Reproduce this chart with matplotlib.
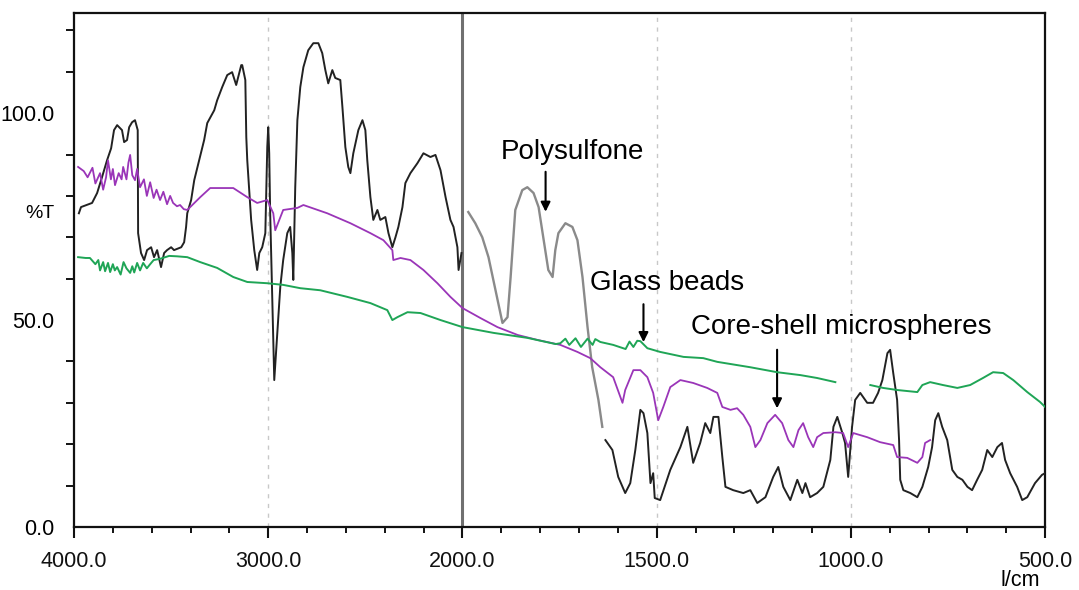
import numpy as np
import matplotlib.pyplot as plt
from matplotlib.ticker import FixedLocator, NullFormatter

plt.rcParams['font.family'] = ['Liberation Sans', 'DejaVu Sans']

# Polysulfone (black trace), wavenumber in 1/cm and %T; nan = break in the trace
ps_wn = [3975, 3964, 3907, 3881, 3856, 3830, 3809, 3794, 3778, 3753, 3742, 3727, 3716, 3701,
         3686, 3672, 3670, 3655, 3639, 3624, 3603, 3588, 3572, 3552, 3536, 3521, 3500, 3485,
         3448, 3433, 3423, 3417, 3397, 3381, 3356, 3330, 3314, 3278, 3263, 3237, 3211, 3186,
         3165, 3149, 3139, 3134, 3118, 3113, 3108, 3088, 3072, 3057, 3046, 3031, 3015, 3005,
         3000, 2995, 2990, 2969, 2948, 2938, 2923, 2902, 2887, 2876, 2871, 2861, 2850, 2835,
         2819, 2794, 2768, 2742, 2722, 2706, 2691, 2670, 2655, 2629, 2618, 2603, 2588, 2577,
         2562, 2536, 2515, 2500, 2490, 2474, 2459, 2438, 2423, 2397, 2381, 2361, 2345, 2330,
         2309, 2294, 2268, 2232, 2201, 2165, 2139, 2113, 2087, 2062, 2046, 2026, 2020, 2005,
         1995,
         1985, 1967, 1949, 1933, 1915, 1897, 1884, 1876, 1864, 1846, 1833, 1817, 1804, 1792,
         1779, 1768, 1761, 1753, 1735, 1717, 1704, 1691, 1678, 1666, 1650, 1640,
         1636,
         1632, 1614, 1599, 1581, 1568, 1555, 1542, 1534, 1524, 1516, 1509, 1505, 1491, 1465,
         1439, 1421, 1406, 1388, 1375, 1362, 1354, 1341, 1331, 1323, 1303, 1277, 1259, 1241,
         1220, 1200, 1187, 1174, 1156, 1138, 1125, 1117, 1105, 1087, 1071, 1053, 1045, 1035,
         1022, 1015, 1007, 997, 989, 976, 958, 943, 930, 919, 906, 899, 891, 881, 876, 873,
         865, 847, 829, 816, 801, 791, 783, 775, 765, 752, 739, 726, 713, 700, 688, 675, 662,
         649, 636, 623, 611, 603, 590, 572, 559, 546, 526, 508, 500]
ps_t = [75.8, 77.3, 78.3, 80.7, 84.5, 88.6, 91.5, 95.9, 97.1, 95.9, 93.0, 93.5, 96.6, 97.8,
        98.3, 95.9, 71.0, 66.2, 64.5, 66.9, 67.6, 65.2, 66.9, 62.8, 66.2, 66.9, 67.6, 66.9,
        67.6, 68.8, 72.5, 75.8, 79.0, 83.8, 88.6, 93.5, 97.6, 100.7, 103.1, 106.3, 109.2, 109.9,
        106.8, 109.7, 111.6, 111.6, 108.0, 94.2, 88.6, 74.2, 66.9, 62.1, 66.2, 67.6, 71.0, 91.8,
        96.6, 90.3, 75.8, 35.5, 50.7, 58.0, 64.5, 71.0, 72.5, 66.2, 59.7, 82.1, 98.3, 106.3,
        111.1, 115.2, 116.9, 116.9, 114.5, 110.4, 107.2, 110.4, 108.5, 108.0, 101.4, 91.8, 87.0, 85.5,
        90.3, 95.9, 98.3, 95.9, 88.6, 79.7, 74.2, 76.6, 74.2, 74.9, 71.0, 67.6, 70.0, 72.5,
        77.3, 83.1, 85.5, 87.9, 90.3, 89.4, 89.9, 86.2, 79.7, 74.2, 72.5, 67.6, 62.1, 66.2,
        np.nan,
        76.1, 73.4, 70.0, 65.2, 57.2, 49.3, 50.7, 60.4, 76.6, 81.4, 82.1, 80.7, 77.3, 70.0,
        62.1, 60.4, 66.9, 71.0, 73.4, 72.5, 69.3, 60.4, 48.3, 38.6, 30.7, 24.2,
        np.nan,
        21.0, 18.6, 12.1, 8.2, 10.6, 18.6, 28.3, 27.5, 22.7, 10.6, 13.0, 7.0, 6.5, 13.8,
        19.3, 24.2, 15.5, 20.3, 25.1, 22.7, 26.6, 26.6, 16.9, 9.7, 8.9, 8.2, 8.9, 5.8,
        7.2, 12.1, 14.5, 9.7, 6.5, 11.4, 8.2, 10.6, 7.2, 8.2, 9.7, 16.2, 24.2, 26.6,
        22.7, 20.3, 12.1, 24.2, 30.7, 32.4, 30.0, 30.0, 32.4, 35.5, 42.0, 42.8, 37.2, 30.7, 21.0, 11.4,
        8.9, 8.2, 7.2, 9.7, 14.5, 19.3, 25.8, 27.5, 24.2, 21.0, 13.8, 12.1, 11.4, 9.7, 8.9, 11.4, 13.8,
        18.6, 16.9, 19.3, 20.3, 16.2, 13.0, 9.7, 6.5, 7.2, 10.6, 12.6, 13.0]

# Core-shell microspheres (purple trace)
cs_wn = [3979, 3950, 3930, 3905, 3890, 3866, 3850, 3835, 3825, 3810, 3800, 3789, 3770, 3755,
         3747, 3730, 3720, 3711, 3700, 3686, 3675, 3660, 3640, 3625, 3608, 3590, 3575, 3557,
         3540, 3521, 3505, 3490, 3470, 3454, 3435, 3417, 3350, 3299, 3180, 3108, 3057, 3005,
         2974, 2964, 2923, 2850, 2819, 2696, 2577, 2474, 2407, 2361, 2356, 2319, 2268, 2201,
         2129, 2062, 2000, 1954, 1910, 1858, 1807, 1748, 1704, 1671, 1645, 1612, 1588, 1581,
         1560, 1542, 1524, 1509, 1496, 1483, 1465, 1439, 1406, 1370, 1344, 1331, 1310, 1293,
         1277, 1259, 1246, 1233, 1215, 1195, 1177, 1161, 1148, 1135, 1123, 1110, 1097, 1087,
         1071, 1040, 1020, 1007, 994, 958, 925, 891, 881, 855, 829, 816, 809, 796]
cs_t = [87.0, 86.0, 84.5, 86.8, 83.0, 85.5, 81.5, 84.5, 88.6, 84.0, 86.5, 82.6, 85.5, 84.0,
        87.0, 84.0, 88.0, 89.9, 85.0, 83.8, 86.5, 82.1, 84.0, 80.0, 83.3, 79.5, 81.5, 79.0,
        81.0, 78.0, 80.0, 78.3, 77.5, 77.8, 76.8, 76.6, 79.7, 81.9, 81.9, 79.7, 78.3, 79.0,
        75.8, 71.7, 76.6, 77.1, 77.8, 75.8, 73.4, 71.0, 69.3, 66.9, 64.5, 65.0, 64.5, 62.1,
        58.9, 55.6, 52.9, 50.5, 48.3, 46.4, 45.2, 44.0, 42.3, 40.8, 38.6, 36.2, 30.0, 33.1,
        37.9, 37.9, 36.2, 32.4, 25.8, 29.0, 33.8, 35.5, 34.8, 33.6, 32.4, 29.0, 28.3, 28.7,
        27.1, 24.2, 19.3, 21.0, 25.1, 27.1, 25.1, 21.0, 19.3, 23.4, 25.1, 21.7, 19.3, 21.7,
        22.7, 22.9, 22.7, 19.3, 22.7, 21.7, 20.5, 19.8, 16.9, 16.7, 15.5, 16.9, 20.3, 21.0]

# Glass beads (green trace)
gb_wn = [3979, 3940, 3918, 3890, 3875, 3866, 3850, 3840, 3825, 3814, 3800, 3790, 3778, 3760,
         3745, 3730, 3711, 3700, 3690, 3675, 3660, 3644, 3625, 3608, 3590, 3557, 3510, 3469,
         3417, 3350, 3263, 3180, 3108, 3005, 2923, 2835, 2732, 2593, 2474, 2387, 2361, 2335,
         2283, 2216, 2113, 2000, 1920, 1833, 1760, 1748, 1735, 1725, 1709, 1695, 1678, 1665,
         1658, 1645, 1612, 1580, 1570, 1560, 1550, 1542, 1524, 1491, 1431, 1380, 1344, 1259,
         1190, 1130, 1087, 1040,
         1000,
         950, 917, 881, 829, 816, 796, 763, 726, 693, 660, 634, 608, 582, 546, 513, 500]
gb_t = [65.2, 65.0, 65.0, 63.5, 64.5, 62.0, 64.0, 61.8, 63.8, 61.6, 63.5, 62.0, 62.8, 61.0,
        64.0, 62.5, 61.4, 63.0, 61.5, 63.8, 62.0, 63.8, 62.5, 63.5, 64.5, 64.8, 65.5, 65.4,
        65.2, 64.0, 62.6, 60.4, 59.2, 58.9, 58.5, 57.7, 57.2, 55.6, 54.1, 52.4, 50.0, 50.7,
        51.9, 51.7, 50.0, 48.3, 46.9, 45.7, 44.2, 44.4, 45.5, 44.0, 45.6, 43.5, 45.5, 44.0,
        45.4, 44.7, 44.0, 43.0, 44.8, 43.5, 45.0, 44.9, 43.2, 42.3, 41.1, 40.8, 39.9, 38.6,
        37.4, 36.7, 36.0, 35.0,
        np.nan,
        34.3, 33.6, 33.1, 32.6, 34.3, 35.0, 34.3, 33.6, 34.3, 36.0, 37.4, 37.2, 35.5, 32.6, 30.2, 29.0]

x_major = [4000, 3000, 2000, 1500, 1000, 500]
x_labels = ['4000.0', '3000.0', '2000.0', '1500.0', '1000.0', '500.0']
x_minor = list(range(3800, 2000, -200)) + list(range(1900, 500, -100))
y_major = [0, 50, 100]
y_labels = ['0.0', '50.0', '100.0']
y_minor = list(range(10, 130, 10))


# the spectrometer doubles the scale below 2000 1/cm
def fwd(x):
    x = np.asarray(x, dtype=float)
    return np.where(x >= 2000, x, 2 * x - 2000)


def inv(u):
    u = np.asarray(u, dtype=float)
    return np.where(u >= 2000, u, (u + 2000) / 2)


fig = plt.figure(figsize=(10.79, 5.90), dpi=100)
ax = fig.add_axes([0.0686, 0.1068, 0.9000, 0.8712])
ax.set_xscale('function', functions=(fwd, inv))

for g in [3000, 1500, 1000]:
    ax.axvline(g, color='#c8c8c8', lw=1.0, ls=(0, (3, 4)), zorder=0)
ax.axvline(2000, color='#707070', lw=2.2, zorder=1)

ps_wn = np.array(ps_wn)
ps_t = np.array(ps_t)
mid = (ps_wn <= 2000) & (ps_wn >= 1636)
ax.plot(ps_wn, np.where(mid, np.nan, ps_t), color='#222222', lw=1.4, zorder=3)
ax.plot(ps_wn, np.where(mid, ps_t, np.nan), color='#8a8a8a', lw=1.7, zorder=3)
ax.plot(cs_wn, cs_t, color='#9a35b8', lw=1.3, zorder=4)
ax.plot(gb_wn, gb_t, color='#1fa556', lw=1.4, zorder=4)

ax.set_xlim(4000, 500)
ax.set_ylim(0, 124.2)

ax.xaxis.set_major_locator(FixedLocator(x_major))
ax.set_xticklabels(x_labels)
ax.xaxis.set_minor_locator(FixedLocator(x_minor))
ax.xaxis.set_minor_formatter(NullFormatter())
ax.yaxis.set_major_locator(FixedLocator(y_major))
ax.set_yticklabels(y_labels)
ax.yaxis.set_minor_locator(FixedLocator(y_minor))
ax.yaxis.set_minor_formatter(NullFormatter())

ax.tick_params(axis='x', which='major', direction='out', length=8, width=1.5,
               labelsize=15.5, pad=9, colors='#111111')
ax.tick_params(axis='x', which='minor', direction='out', length=4, width=1.3)
ax.tick_params(axis='y', which='major', length=0, labelsize=15.5, pad=14)
ax.tick_params(axis='y', which='minor', direction='out', length=6, width=1.3)

for s in ax.spines.values():
    s.set_linewidth(1.6)
    s.set_color('#111111')

fig.text(40 / 1079, 1 - 213 / 590, '%T', fontsize=14, ha='center', va='center')
fig.text(1020 / 1079, 1 - 580 / 590, 'l/cm', fontsize=15.5, ha='center', va='center')

ax.text(1717, 90.6, 'Polysulfone', fontsize=20, ha='center', va='center')
ax.annotate('', xy=(1786, 75.5), xytext=(1786, 86.5),
            arrowprops=dict(arrowstyle='-|>', color='black', lw=1.5, mutation_scale=14))
ax.text(1473, 58.9, 'Glass beads', fontsize=20, ha='center', va='center')
ax.annotate('', xy=(1534, 44.0), xytext=(1534, 54.5),
            arrowprops=dict(arrowstyle='-|>', color='black', lw=1.5, mutation_scale=14))
ax.text(1025, 48.3, 'Core-shell microspheres', fontsize=20, ha='center', va='center')
ax.annotate('', xy=(1190, 28.0), xytext=(1190, 43.5),
            arrowprops=dict(arrowstyle='-|>', color='black', lw=1.5, mutation_scale=14))

fig.savefig('out.png', dpi=100)
